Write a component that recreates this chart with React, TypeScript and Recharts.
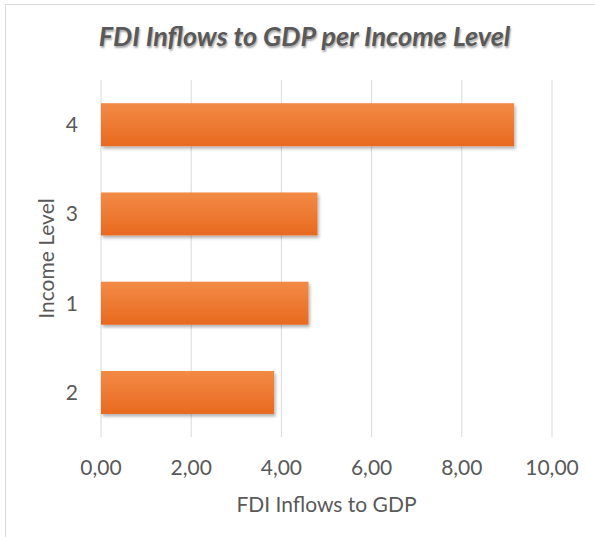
import React from "react";
import { BarChart, Bar, XAxis, YAxis, CartesianGrid, Label } from "recharts";

// Income levels, listed top to bottom as they appear on the category axis
const incomeLevels = ["4", "3", "1", "2"];
// FDI inflows to GDP for each income level
const fdiToGdp = [9.16, 4.8, 4.6, 3.84];
// Value axis ticks
const xTicks = [0, 2, 4, 6, 8, 10];

const data = incomeLevels.map((level, i) => ({ level, value: fdiToGdp[i] }));

const FONT = "Lato, 'Open Sans', sans-serif";
const TEXT = "#595959";
const AXIS_FONT_SIZE = 21;

const fmt = (v: number) => v.toFixed(2).replace(".", ",");

const BarShape = (props: any) => {
  const { x, y, width, height } = props;
  if (width <= 0) return null;
  return (
    <rect
      x={x}
      y={y}
      width={width}
      height={height}
      fill="url(#barFill)"
      filter="url(#barShadow)"
    />
  );
};

const YTitle = (props: any) => {
  const vb = props.viewBox || {};
  const cx = 45;
  const cy = vb.y + vb.height / 2;
  return (
    <text
      x={cx}
      y={cy}
      transform={`rotate(-90 ${cx} ${cy})`}
      textAnchor="middle"
      dominantBaseline="central"
      fill={TEXT}
      fontSize={AXIS_FONT_SIZE}
      fontFamily={FONT}
    >
      Income Level
    </text>
  );
};

export default function App() {
  return (
    <div
      style={{
        position: "absolute",
        left: 0,
        top: 0,
        width: 595,
        height: 537,
        background: "#fff",
        overflow: "hidden",
      }}
    >
      <div
        style={{
          position: "absolute",
          left: 5,
          top: 4,
          width: 620,
          height: 560,
          borderLeft: "1px solid #d9d9d9",
          borderTop: "1px solid #d9d9d9",
        }}
      />
      <BarChart
        width={595}
        height={537}
        data={data}
        layout="vertical"
        margin={{ top: 80, right: 43, bottom: 0, left: 0 }}
        barCategoryGap="26%"
        style={{ position: "absolute", left: 0, top: 0 }}
      >
        <defs>
          <linearGradient id="barFill" x1="0" y1="0" x2="0" y2="1">
            <stop offset="0%" stopColor="#F28B46" />
            <stop offset="100%" stopColor="#E8691F" />
          </linearGradient>
          <filter id="barShadow" x="-5%" y="-20%" width="115%" height="160%">
            <feDropShadow dx="1.5" dy="2.5" stdDeviation="1.8" floodColor="#000" floodOpacity="0.3" />
          </filter>
        </defs>
        <CartesianGrid horizontal={false} stroke="#d9d9d9" strokeWidth={1} />
        <XAxis
          type="number"
          domain={[0, 10]}
          ticks={xTicks}
          tickFormatter={fmt}
          axisLine={false}
          tickLine={false}
          tickMargin={17}
          height={100}
          tick={{ fill: TEXT, fontSize: AXIS_FONT_SIZE, fontFamily: FONT }}
        >
          <Label
            value="FDI Inflows to GDP"
            position="insideBottom"
            offset={25}
            fill={TEXT}
            fontSize={AXIS_FONT_SIZE}
            fontFamily={FONT}
          />
        </XAxis>
        <YAxis
          type="category"
          dataKey="level"
          width={101}
          axisLine={false}
          tickLine={false}
          tickMargin={17}
          tick={{ fill: TEXT, fontSize: AXIS_FONT_SIZE, fontFamily: FONT }}
        >
          <Label content={<YTitle />} />
        </YAxis>
        <Bar dataKey="value" isAnimationActive={false} shape={<BarShape />} />
      </BarChart>
      <div
        style={{
          position: "absolute",
          left: 0,
          top: 20,
          width: 609,
          textAlign: "center",
          fontFamily: FONT,
          fontWeight: 700,
          fontStyle: "italic",
          fontSize: 27,
          lineHeight: 1.2,
          color: TEXT,
          textShadow: "1px 2px 2px rgba(0,0,0,0.35)",
          whiteSpace: "nowrap",
        }}
      >
        FDI Inflows to GDP per Income Level
      </div>
    </div>
  );
}
